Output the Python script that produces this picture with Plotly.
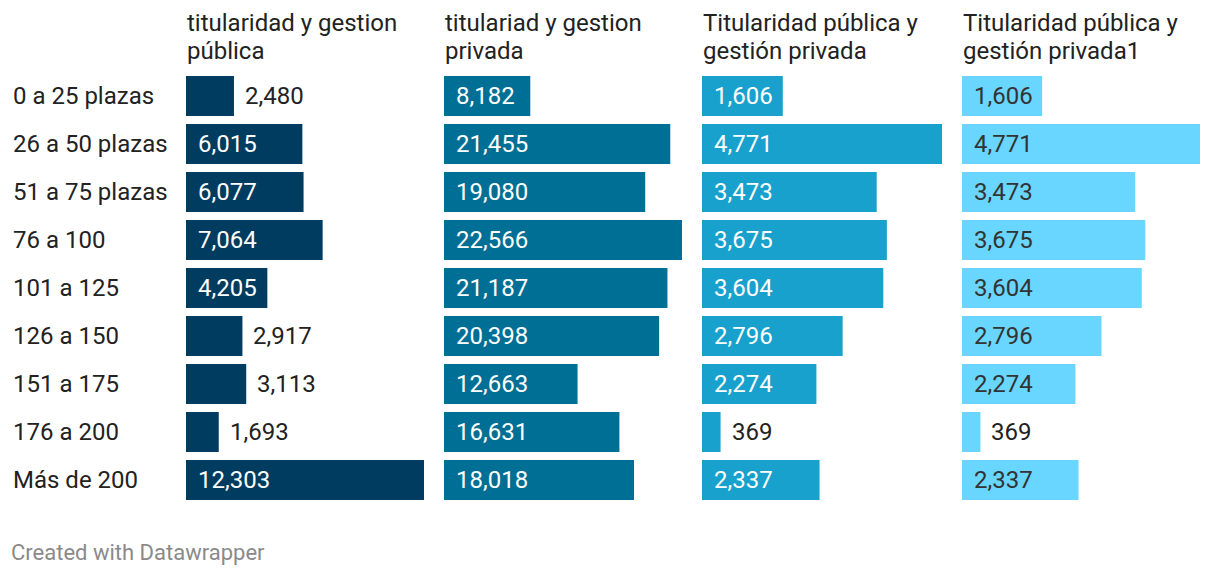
import plotly.graph_objects as go

categories = ["0 a 25 plazas", "26 a 50 plazas", "51 a 75 plazas", "76 a 100",
              "101 a 125", "126 a 150", "151 a 175", "176 a 200", "Más de 200"]
headers = [("titularidad y gestion", "pública"), ("titulariad y gestion", "privada"),
           ("Titularidad pública y", "gestión privada"), ("Titularidad pública y", "gestión privada1")]
s1 = [2480, 6015, 6077, 7064, 4205, 2917, 3113, 1693, 12303]
s2 = [8182, 21455, 19080, 22566, 21187, 20398, 12663, 16631, 18018]
s3 = [1606, 4771, 3473, 3675, 3604, 2796, 2274, 369, 2337]
s4 = [1606, 4771, 3473, 3675, 3604, 2796, 2274, 369, 2337]
series = [s1, s2, s3, s4]
colors = ["#003c5f", "#006f95", "#18a1cd", "#68d6fe"]
inside_text = ["#ffffff", "#ffffff", "#ffffff", "#333333"]

W, H = 1220, 576
cols_px = [(186, 424), (444, 682), (702, 942), (962, 1200)]
FONT = "Roboto"
FS = 24
DARK = "#222222"
fig = go.Figure()
annotations = []
for i, (vals, col) in enumerate(zip(series, colors)):
    ax = "" if i == 0 else str(i + 1)
    fig.add_trace(go.Bar(
        x=vals, y=categories, orientation="h", marker=dict(color=col, line=dict(width=0)),
        xaxis="x" + ax, yaxis="y" + ax, hoverinfo="x+y", showlegend=False,
    ))
    x0, x1 = cols_px[i]
    mx = max(vals)
    fig.update_layout(**{
        "xaxis" + ax: dict(domain=[x0 / W, x1 / W], range=[0, mx], visible=False, fixedrange=True),
        "yaxis" + ax: dict(domain=[0.125, 0.875], range=[8.5, -0.5], type="category",
                           visible=False, anchor="x" + ax, fixedrange=True),
    })
    for c, v in zip(categories, vals):
        wpx = v / mx * (x1 - x0)
        inside = wpx > 72
        annotations.append(dict(
            xref="x" + ax, yref="y" + ax, x=0 if inside else v, y=c,
            text=f"{v:,}", showarrow=False, xanchor="left", yanchor="middle",
            xshift=10 if inside else 9,
            font=dict(family=FONT, size=FS, color=inside_text[i] if inside else DARK),
        ))
    for line, yc in zip(headers[i], (23, 51.5)):
        annotations.append(dict(
            xref="paper", yref="paper", x=x0 / W, y=1 - yc / H, text=line, showarrow=False,
            xanchor="left", yanchor="middle", align="left", xshift=-1,
            font=dict(family=FONT, size=FS, color=DARK),
        ))

for c in categories:
    annotations.append(dict(
        xref="paper", yref="y", x=12 / W, y=c, text=c, showarrow=False,
        xanchor="left", yanchor="middle", xshift=-1,
        font=dict(family=FONT, size=FS, color=DARK),
    ))

annotations.append(dict(
    xref="paper", yref="paper", x=10 / W, y=1 - 552 / H, text="Created with Datawrapper",
    showarrow=False, xanchor="left", yanchor="middle", xshift=-1,
    font=dict(family=FONT, size=22, color="#8a8a8a"),
))

fig.update_layout(
    width=W, height=H, margin=dict(l=0, r=0, t=0, b=0),
    paper_bgcolor="white", plot_bgcolor="white", bargap=1 - 40 / 48,
    annotations=annotations, font=dict(family=FONT),
)
fig.write_html("out.html", config={"displayModeBar": False},
               post_script="document.body.style.margin='0';document.body.style.overflow='hidden';")
